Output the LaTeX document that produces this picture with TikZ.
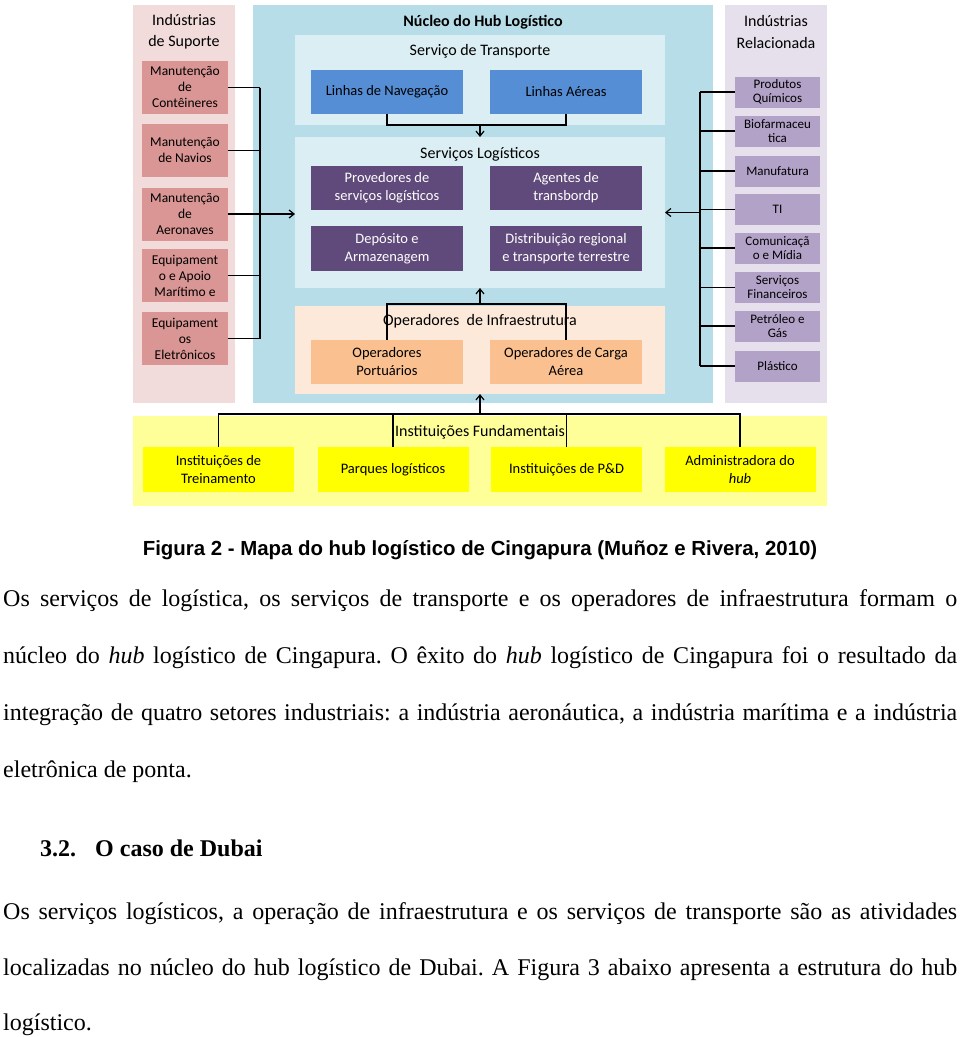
\documentclass[tikz,border=0pt]{standalone}
\usepackage{fontspec}
\setmainfont{Carlito}
\newfontfamily\legendafont{Liberation Sans}
\newfontfamily\textofont{Liberation Serif}
\usepackage{tikz}
\usetikzlibrary{arrows.meta}
\usetikzlibrary{scopes}
\frenchspacing

\definecolor{suporteBg}{HTML}{F2DCDB}
\definecolor{suporteBox}{HTML}{D99694}
\definecolor{nucleoBg}{HTML}{B7DDE8}
\definecolor{painelBg}{HTML}{DAEEF3}
\definecolor{linhaBox}{HTML}{558ED5}
\definecolor{logBox}{HTML}{604A7B}
\definecolor{infraBg}{HTML}{FDE9D9}
\definecolor{infraBox}{HTML}{FAC090}
\definecolor{relBg}{HTML}{E5E0EC}
\definecolor{relBox}{HTML}{B2A2C7}
\definecolor{fundBg}{HTML}{FFFF99}
\definecolor{fundBox}{HTML}{FFFF00}

\tikzset{
  titulo/.style={inner sep=0pt,align=center,font=\fontsize{16}{21}\selectfont},
  supbox/.style={fill=suporteBox,inner sep=0pt,minimum width=86pt,minimum height=53pt,
    align=center,font=\fontsize{13.5}{16}\selectfont},
  relbox/.style={fill=relBox,inner sep=0pt,minimum width=85pt,minimum height=31pt,
    align=center,font=\fontsize{13}{14}\selectfont},
  nucbox/.style={inner sep=0pt,minimum width=152pt,minimum height=44pt,
    align=center,font=\fontsize{14.5}{18}\selectfont},
  fundbox/.style={fill=fundBox,inner sep=0pt,minimum width=151pt,minimum height=45pt,
    align=center,font=\fontsize{14.5}{18}\selectfont},
  texto/.style={inner sep=0pt,anchor=base west,font=\textofont\fontsize{24}{28}\selectfont},
  seta/.style={-{Straight Barb[length=5pt,width=8pt]}}
}

\begin{document}
\begin{tikzpicture}[x=1pt,y=-1pt]
\path[fill=white,use as bounding box] (0,0) rectangle (960,1037);

% fundos
\begin{scope}[every node/.style={inner sep=0pt,outer sep=0pt}]
    \node[fill=suporteBg,minimum width=102pt,minimum height=398pt] (suporte) at (184,204) {};
    \node[fill=nucleoBg,minimum width=460pt,minimum height=398pt] (nucleo) at (483,204) {};
    \node[fill=relBg,minimum width=102pt,minimum height=398pt] (relac) at (776,204) {};
    \node[fill=fundBg,minimum width=694pt,minimum height=90pt] (fund) at (480,461) {};
    \node[fill=painelBg,minimum width=370pt,minimum height=90pt] (transp) at (480,80) {};
    \node[fill=painelBg,minimum width=370pt,minimum height=151pt] (logis) at (480,212.5) {};
    \node[fill=infraBg,minimum width=370pt,minimum height=88pt] (infra) at (480,350) {};
\end{scope}

% titulos
\node[titulo] (supT) at (184,32) {Indústrias\\de Suporte};
\node[titulo] (relT) at (776,32) {Indústrias\\Relacionada};
\node[titulo,anchor=base,font=\fontsize{16}{21}\selectfont\bfseries] (nucT) at (483,26) {Núcleo do Hub Logístico};
\node[titulo,anchor=base] (transpT) at (480,55) {Serviço de Transporte};
\node[titulo,anchor=base] (logisT) at (480,158) {Serviços Logísticos};
\node[titulo,anchor=base] (infraT) at (480,325) {Operadores\ \ de Infraestrutura};
\node[titulo,anchor=base] (fundT) at (480,436) {Instituições Fundamentais};

% industrias de suporte
\node[supbox] (sup1) at (185,87.5) {Manutenção\\de\\Contêineres};
\node[supbox] (sup2) at (185,150.5) {Manutenção\\de Navios};
\node[supbox] (sup3) at (185,214) {Manutenção\\de\\Aeronaves};
\node[supbox] (sup4) at (185,275.5) {Equipament\\o e Apoio\\Marítimo e};
\node[supbox] (sup5) at (185,338.5) {Equipament\\os\\Eletrônicos};

% industrias relacionadas
\node[relbox] (rel1) at (777.5,92) {Produtos\\Químicos};
\node[relbox] (rel2) at (777.5,131) {Biofarmaceu\\tica};
\node[relbox] (rel3) at (777.5,171) {Manufatura};
\node[relbox] (rel4) at (777.5,209.5) {TI};
\node[relbox] (rel5) at (777.5,248) {Comunicaçã\\o e Mídia};
\node[relbox] (rel6) at (777.5,287.5) {Serviços\\Financeiros};
\node[relbox] (rel7) at (777.5,326) {Petróleo e\\Gás};
\node[relbox] (rel8) at (777.5,366) {Plástico};

% nucleo
\node[nucbox,fill=linhaBox] (nav) at (387,92) {Linhas de Navegação};
\node[nucbox,fill=linhaBox] (aer) at (566,92) {Linhas Aéreas};
\node[nucbox,fill=logBox,text=white] (prov) at (387,188) {Provedores de\\serviços logísticos};
\node[nucbox,fill=logBox,text=white] (agen) at (566,188) {Agentes de\\transbordp};
\node[nucbox,fill=logBox,text=white,minimum height=45pt] (depo) at (387,248.5) {Depósito e\\Armazenagem};
\node[nucbox,fill=logBox,text=white,minimum height=45pt] (dist) at (566,248.5) {Distribuição regional\\e transporte terrestre};
\node[nucbox,fill=infraBox] (portu) at (387,362) {Operadores\\Portuários};
\node[nucbox,fill=infraBox] (carga) at (566,362) {Operadores de Carga\\Aérea};

% instituicoes fundamentais
\node[fundbox] (trein) at (218.5,469.5) {Instituições de\\Treinamento};
\node[fundbox] (parq) at (393,469.5) {Parques logísticos};
\node[fundbox] (ped) at (566.5,469.5) {Instituições de P\&D};
\node[fundbox] (admin) at (740,469.5) {Administradora do\\\textit{hub}};

\coordinate (busL) at (260,0);
\coordinate (busR) at (700,0);
\coordinate (infraBus) at (480,304);
\coordinate (fundBus) at (480,414);

\begin{scope}[line width=1.2pt]
    \foreach \i in {1,...,5} \draw (sup\i.east) -- (sup\i.east -| busL);
    \draw (sup1.east -| busL) -- (sup5.east -| busL);
    \draw[seta] (sup3.east -| busL) -- (sup3.east -| logis.west);
    \foreach \i in {1,...,8} \draw (rel\i.west) -- (rel\i.west -| busR);
    \draw (rel1.west -| busR) -- (rel8.west -| busR);
    \draw[seta] (logis.east -| busR) -- (logis.east);
    \draw (nav.south) -- (nav.south |- transp.south) -- (aer.south |- transp.south) -- (aer.south);
    \draw[seta] (transp.south) -- (logis.north);
    \draw (portu.north) |- (infraBus) -| (carga.north);
    \draw[seta] (infraBus) -- (logis.south);
    \draw (trein.north) |- (fundBus) -| (admin.north);
    \draw (parq.north) -- (parq.north |- fundBus);
    \draw (ped.north) -- (ped.north |- fundBus);
    \draw[seta] (fundBus) -- (infra.south);
\end{scope}

% legenda e texto
\node[inner sep=0pt,anchor=base,font=\legendafont\bfseries\fontsize{20.4}{24}\selectfont] (legenda) at (480,555)
    {Figura 2 - Mapa do hub logístico de Cingapura (Muñoz e Rivera, 2010)};
\node[texto] (l1) at (3,606) {\makebox[954pt][s]{Os serviços de logística, os serviços de transporte e os operadores de infraestrutura formam o}};
\node[texto] (l2) at (3,663) {\makebox[954pt][s]{núcleo do \textit{hub} logístico de Cingapura. O êxito do \textit{hub} logístico de Cingapura foi o resultado da}};
\node[texto] (l3) at (3,720) {\makebox[954pt][s]{integração de quatro setores industriais: a indústria aeronáutica, a indústria marítima e a indústria}};
\node[texto] (l4) at (3,777) {eletrônica de ponta.};
\node[texto,font=\textofont\bfseries\fontsize{24}{28}\selectfont] (secN) at (40,856) {3.2.};
\node[texto,font=\textofont\bfseries\fontsize{24}{28}\selectfont] (secT) at (95,856) {O caso de Dubai};
\node[texto] (l5) at (3,919) {\makebox[954pt][s]{Os serviços logísticos, a operação de infraestrutura e os serviços de transporte são as atividades}};
\node[texto] (l6) at (3,975) {\makebox[954pt][s]{localizadas no núcleo do hub logístico de Dubai. A Figura 3 abaixo apresenta a estrutura do hub}};
\node[texto] (l7) at (3,1030) {logístico.};
\end{tikzpicture}
\end{document}
